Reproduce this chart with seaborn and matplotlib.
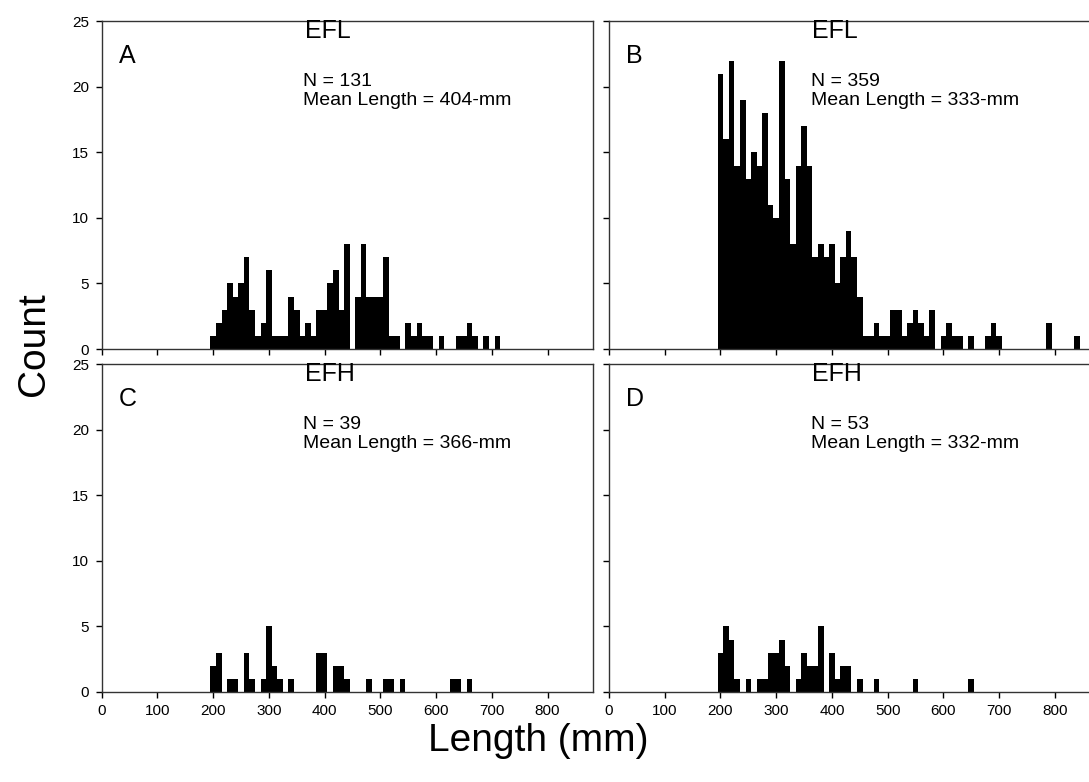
import numpy as np
import pandas as pd
import matplotlib
matplotlib.use("Agg")
import matplotlib.pyplot as plt
import seaborn as sns

# bin centres (mm) and counts, 10 mm bins
a_len = [200, 210, 220, 230, 240, 250, 260, 270, 280, 290, 300, 310, 320, 330, 340, 350,
         360, 370, 380, 390, 400, 410, 420, 430, 440, 450, 460, 470, 480, 490, 500, 510,
         520, 530, 540, 550, 560, 570, 580, 590, 600, 610, 620, 630, 640, 650, 660, 670,
         680, 690, 700, 710]
a_cnt = [1, 2, 3, 5, 4, 5, 7, 3, 1, 2, 6, 1, 1, 1, 4, 3,
         1, 2, 1, 3, 3, 5, 6, 3, 8, 0, 4, 8, 4, 4, 4, 7,
         1, 1, 0, 2, 1, 2, 1, 1, 0, 1, 0, 0, 1, 1, 2, 1,
         0, 1, 0, 1]

b_len = [200, 210, 220, 230, 240, 250, 260, 270, 280, 290, 300, 310, 320, 330, 340, 350,
         360, 370, 380, 390, 400, 410, 420, 430, 440, 450, 460, 470, 480, 490, 500, 510,
         520, 530, 540, 550, 560, 570, 580, 590, 600, 610, 620, 630, 640, 650, 660, 670,
         680, 690, 700, 790, 840]
b_cnt = [21, 16, 22, 14, 19, 13, 15, 14, 18, 11, 10, 22, 13, 8, 14, 17,
         14, 7, 8, 7, 8, 5, 7, 9, 7, 4, 1, 1, 2, 1, 1, 3,
         3, 1, 2, 3, 2, 1, 3, 0, 1, 2, 1, 1, 0, 1, 0, 0,
         1, 2, 1, 2, 1]

c_len = [200, 210, 230, 240, 260, 270, 290, 300, 310, 320, 340, 390, 400, 420, 430, 440,
         480, 510, 520, 540, 630, 640, 660]
c_cnt = [2, 3, 1, 1, 3, 1, 1, 5, 2, 1, 1, 3, 3, 2, 2, 1,
         1, 1, 1, 1, 1, 1, 1]

d_len = [200, 210, 220, 230, 250, 270, 280, 290, 300, 310, 320, 340, 350, 360, 370, 380,
         400, 410, 420, 430, 450, 480, 550, 650]
d_cnt = [3, 5, 4, 1, 1, 1, 1, 3, 3, 4, 2, 1, 3, 2, 2, 5,
         3, 1, 2, 2, 1, 1, 1, 1]

panels = [
    ("A", "EFL", "N = 131", "Mean Length = 404-mm", a_len, a_cnt),
    ("B", "EFL", "N = 359", "Mean Length = 333-mm", b_len, b_cnt),
    ("C", "EFH", "N = 39", "Mean Length = 366-mm", c_len, c_cnt),
    ("D", "EFH", "N = 53", "Mean Length = 332-mm", d_len, d_cnt),
]

sns.set_style("ticks")
plt.rcParams["font.family"] = ["Liberation Sans", "DejaVu Sans"]
plt.rcParams["text.color"] = "black"
plt.rcParams["xtick.color"] = "black"
plt.rcParams["ytick.color"] = "black"

fig = plt.figure(figsize=(10.89, 7.82), dpi=100)
W, H = 0.4514, 0.419
pos = [(0.0934, 0.5537), (0.5592, 0.5537), (0.0934, 0.1151), (0.5592, 0.1151)]
edges = list(np.arange(195, 865, 10))

for i, (letter, site, ntxt, mtxt, xs, cs) in enumerate(panels):
    ax = fig.add_axes([pos[i][0], pos[i][1], W, H])
    df = pd.DataFrame({"len": xs, "cnt": cs})
    sns.histplot(data=df, x="len", weights="cnt", bins=edges, color="black",
                 alpha=1, linewidth=0, ax=ax)
    ax.set_xlim(0, 882)
    ax.set_ylim(0, 25)
    ax.set_xticks(range(0, 900, 100))
    ax.set_yticks(range(0, 30, 5))
    ax.set_xlabel("")
    ax.set_ylabel("")
    for s in ax.spines.values():
        s.set_linewidth(1.0)
        s.set_color("#333333")
    ax.tick_params(direction="out", length=4, width=1, labelsize=11, pad=5)
    if i < 2:
        ax.tick_params(labelbottom=False)
    if i % 2 == 1:
        ax.tick_params(labelleft=False)
    ax.text(0.035, 0.895, letter, transform=ax.transAxes, fontsize=18, va="center")
    ax.text(0.414, 0.972, site, transform=ax.transAxes, fontsize=18, va="center")
    ax.text(0.41, 0.817, ntxt, transform=ax.transAxes, fontsize=14, va="center")
    ax.text(0.41, 0.759, mtxt, transform=ax.transAxes, fontsize=14, va="center")

fig.text(0.031, 0.56, "Count", rotation=90, fontsize=28, ha="center", va="center")
fig.text(0.494, 0.053, "Length (mm)", fontsize=28, ha="center", va="center")

fig.savefig("out.png", dpi=100)
